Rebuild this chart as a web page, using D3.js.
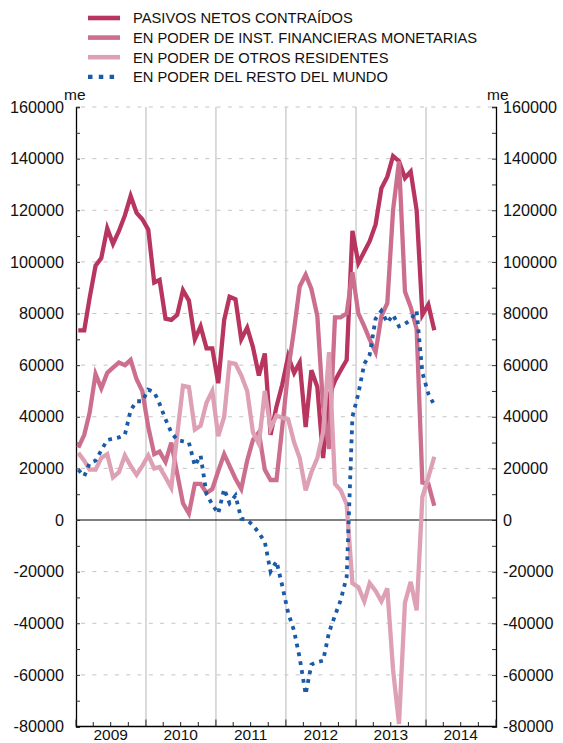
<!DOCTYPE html>
<html><head><meta charset="utf-8">
<script src="https://cdn.jsdelivr.net/npm/d3@7"></script>
<style>
html,body{margin:0;padding:0;background:#fff;}
svg{display:block;font-family:"Liberation Sans",Arial,Helvetica,sans-serif;}
</style></head>
<body>
<svg id="chart" width="563" height="743"></svg>
<script>
// ---- DATA (monthly, Jan 2009 - Feb 2014) ----
const startMonth = new Date(2009, 0, 1);
const endMonth = new Date(2014, 2, 1);
const months = d3.timeMonth.range(startMonth, endMonth); // 62 months

const seriesNames = [
  "PASIVOS NETOS CONTRAÍDOS",
  "EN PODER DE INST. FINANCIERAS MONETARIAS",
  "EN PODER DE OTROS RESIDENTES",
  "EN PODER DEL RESTO DEL MUNDO"
];

const pasivos = [73500, 73500, 86000, 98500, 101500, 113000, 107000, 112000, 118000, 125500, 119000, 116500,
  112500, 92000, 93000, 78000, 77500, 79500, 89000, 85000, 70000, 75000, 66500, 66500,
  53000, 77500, 86500, 85500, 70000, 74500, 67000, 56000, 64500, 33000, 44000, 52500,
  63500, 57000, 61000, 36000, 58000, 51500, 24000, 48000, 54000, 58000, 62000, 112000,
  99500, 104000, 108000, 114500, 128500, 133000, 141000, 139000, 132500, 135000, 120000, 79500,
  83500, 73500];

const ifm = [28000, 33000, 41500, 56500, 51000, 57000, 59000, 61000, 60000, 62000, 54500, 50000,
  36000, 25500, 26500, 22500, 30000, 18000, 6500, 2500, 14000, 14000, 10500, 12000,
  19000, 25500, 21000, 16000, 12000, 23000, 31000, 34000, 19500, 15500, 15500, 36000,
  58000, 74000, 90500, 95000, 89500, 79000, 44000, 27500, 78500, 78500, 80000, 96000,
  80000, 75000, 70000, 65000, 79000, 84000, 120000, 139000, 88500, 82500, 74000, 14500,
  14000, 5500];

const otros = [26000, 23000, 19500, 19500, 24000, 25500, 16500, 18500, 25000, 21000, 17500, 21000,
  25000, 20000, 20500, 16500, 12500, 33000, 52000, 51500, 35000, 36500, 45500, 50000,
  32500, 40000, 61000, 60500, 56000, 50000, 34000, 29500, 50000, 35500, 40500, 39500,
  39000, 30000, 24000, 11500, 18500, 24000, 34000, 65000, 14000, 11500, 6000, -24500,
  -26000, -31500, -24500, -27500, -31500, -26500, -58000, -79000, -32000, -24000, -35000, 9000,
  16500, 24500];

const resto = [19500, 17000, 22000, 23000, 27000, 31000, 31500, 32000, 33000, 42500, 46000, 46000,
  50500, 49500, 45000, 39000, 34000, 31000, 30500, 30000, 21000, 25000, 10000, 6000,
  2500, 12000, 6500, 9500, 500, 0, -2000, -5000, -8500, -20000, -16000, -25500,
  -36000, -43000, -53500, -67500, -56000, -55000, -54500, -43500, -37000, -31000, -22000, 40000,
  49000, 60500, 64000, 78000, 81000, 76500, 79500, 75000, 76000, 77500, 81000, 57000,
  49000, 44500];

const yearLabels = ["2009", "2010", "2011", "2012", "2013", "2014"];
const yTickValues = d3.range(-80000, 160001, 10000);
const yLabelValues = d3.range(-80000, 160001, 20000);

// ---- STYLES ----
const colors = ["#b8355f", "#cc6e8d", "#dea0b4", "#1a5aa6"];
const seriesData = [pasivos, ifm, otros, resto];

// ---- LAYOUT ----
const L = 76, R = 496, T = 107, B = 726.5;
const svg = d3.select("#chart");

const x = d3.scaleTime().domain([new Date(2009, 0, 1), new Date(2015, 0, 1)]).range([L, R]);
const y = d3.scaleLinear().domain([-80000, 160000]).range([B, T]);

// horizontal dashed gridlines
svg.append("g").selectAll("line")
  .data(yLabelValues.filter(v => v !== 0 && v !== -80000))
  .join("line")
  .attr("x1", L + 1).attr("x2", R - 1)
  .attr("y1", d => y(d)).attr("y2", d => y(d))
  .attr("stroke", "#c4c4c4").attr("stroke-width", 1)
  .attr("stroke-dasharray", "4,7.3")
  .attr("stroke-dashoffset", -4);

// vertical year gridlines
svg.append("g").selectAll("line")
  .data(d3.range(2010, 2015))
  .join("line")
  .attr("x1", d => x(new Date(d, 0, 1))).attr("x2", d => x(new Date(d, 0, 1)))
  .attr("y1", T).attr("y2", B)
  .attr("stroke", "#cfcfcf").attr("stroke-width", 1.5);

// zero line
svg.append("line")
  .attr("x1", L).attr("x2", R).attr("y1", y(0)).attr("y2", y(0))
  .attr("stroke", "#000").attr("stroke-width", 1.2);

// axes
const fmt = v => (v % 20000 === 0 ? String(v) : "");
const leftAxis = d3.axisLeft(y).tickValues(yTickValues).tickSize(-4).tickPadding(12).tickFormat(fmt);
const rightAxis = d3.axisRight(y).tickValues(yTickValues).tickSize(-4).tickPadding(7).tickFormat(fmt);

function styleAxis(g) {
  g.select(".domain").attr("stroke", "#000").attr("stroke-width", 1.3);
  g.selectAll(".tick line").attr("stroke", "#333").attr("stroke-width", 1);
  g.selectAll("text").attr("font-size", 16.2).attr("fill", "#111")
    .attr("font-family", "'Liberation Sans', Arial, sans-serif");
}
svg.append("g").attr("transform", `translate(${L},0)`).call(leftAxis).call(styleAxis);
svg.append("g").attr("transform", `translate(${R},0)`).call(rightAxis).call(styleAxis);

// bottom axis: quarterly ticks, year ticks longer, labels centred in years
const quarterTicks = d3.timeMonth.every(3).range(new Date(2009, 0, 1), new Date(2015, 0, 2));
const bottom = svg.append("g");
bottom.append("line").attr("x1", L).attr("x2", R).attr("y1", B).attr("y2", B)
  .attr("stroke", "#000").attr("stroke-width", 1.3);
bottom.selectAll("line.q").data(quarterTicks).join("line").attr("class", "q")
  .attr("x1", d => x(d)).attr("x2", d => x(d))
  .attr("y1", B).attr("y2", d => B - (d.getMonth() === 0 ? 7 : 4.5))
  .attr("stroke", "#222").attr("stroke-width", 1);
bottom.selectAll("text").data(yearLabels).join("text")
  .attr("x", (d, i) => x(new Date(2009 + i, 6, 1)))
  .attr("y", 740)
  .attr("text-anchor", "middle").attr("font-size", 15.5).attr("fill", "#111")
  .text(d => d);

// unit labels
svg.append("text").attr("x", 64).attr("y", 100).attr("font-size", 15.5).attr("fill", "#111").text("me");
svg.append("text").attr("x", 487).attr("y", 100).attr("font-size", 15.5).attr("fill", "#111").text("me");

// lines
const line = d3.line()
  .x((d, i) => x(new Date(months[i].getFullYear(), months[i].getMonth(), 13)))
  .y(d => y(d));

seriesData.forEach((arr, k) => {
  svg.append("path")
    .datum(arr)
    .attr("fill", "none")
    .attr("stroke", colors[k])
    .attr("stroke-width", k === 3 ? 3.8 : 4.3)
    .attr("stroke-linejoin", "miter")
    .attr("stroke-miterlimit", 4)
    .attr("stroke-dasharray", k === 3 ? "3.8,5.2" : null)
    .attr("d", line);
});

// legend
const legend = svg.append("g");
seriesNames.forEach((name, k) => {
  const yy = 18 + k * 19.6;
  legend.append("line")
    .attr("x1", 88).attr("x2", 120).attr("y1", yy).attr("y2", yy)
    .attr("stroke", colors[k])
    .attr("stroke-width", k === 3 ? 4.2 : 4.6)
    .attr("stroke-dasharray", k === 3 ? "4.5,6.3" : null);
  legend.append("text")
    .attr("x", 133).attr("y", yy + 5.3)
    .attr("font-size", 14.7).attr("fill", "#111")
    .text(name);
});
</script>
</body></html>
